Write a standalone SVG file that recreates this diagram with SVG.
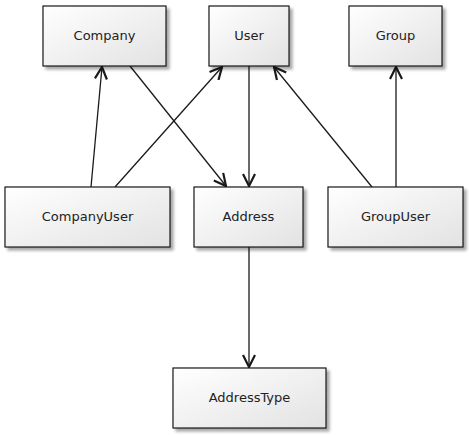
<svg xmlns="http://www.w3.org/2000/svg" width="469" height="435" viewBox="0 0 469 435">
<defs>
<linearGradient id="g" x1="0" y1="0" x2="1" y2="1">
<stop offset="0" stop-color="#ffffff"/>
<stop offset="1" stop-color="#e2e2e2"/>
</linearGradient>
<filter id="sh" x="-10%" y="-10%" width="130%" height="130%">
<feGaussianBlur in="SourceAlpha" stdDeviation="1.5"/>
<feOffset dx="3" dy="3" result="b"/>
<feComponentTransfer><feFuncA type="linear" slope="0.35"/></feComponentTransfer>
<feMerge><feMergeNode/><feMergeNode in="SourceGraphic"/></feMerge>
</filter>
<marker id="arr" viewBox="0 0 14 14" refX="13" refY="7" markerWidth="14" markerHeight="14" markerUnits="userSpaceOnUse" orient="auto">
<path d="M1,1 L13,7 L1,13" fill="none" stroke="#1a1a1a" stroke-width="2.2"/>
</marker>
</defs>
<style>
.n rect{fill:url(#g);stroke:#1a1a1a;stroke-width:1.2;filter:url(#sh)}
.n text{font-family:"DejaVu Sans",Verdana,sans-serif;font-size:13px;fill:#222;text-anchor:middle;dominant-baseline:central}
.c line{stroke:#1a1a1a;stroke-width:1.3;marker-end:url(#arr)}
</style>
<rect width="469" height="435" fill="#ffffff"/>
<g class="c" id="connectors">
<line x1="91" y1="187" x2="102" y2="67"/>
<line x1="115" y1="187" x2="222" y2="67"/>
<line x1="130" y1="66" x2="226" y2="186"/>
<line x1="249" y1="66" x2="249" y2="186"/>
<line x1="372" y1="187" x2="274" y2="67"/>
<line x1="396" y1="187" x2="396" y2="67"/>
<line x1="249" y1="247" x2="249" y2="367"/>
</g>
<g class="n" id="Company"><rect x="43" y="6" width="123" height="60"/><text x="104.5" y="35">Company</text></g>
<g class="n" id="User"><rect x="209" y="6" width="80" height="60"/><text x="249" y="35">User</text></g>
<g class="n" id="Group"><rect x="349" y="6" width="93" height="60"/><text x="395.5" y="35">Group</text></g>
<g class="n" id="CompanyUser"><rect x="5" y="187" width="165" height="60"/><text x="87.5" y="216">CompanyUser</text></g>
<g class="n" id="Address"><rect x="194" y="187" width="109" height="60"/><text x="248.5" y="216">Address</text></g>
<g class="n" id="GroupUser"><rect x="328" y="187" width="135" height="60"/><text x="395.5" y="216">GroupUser</text></g>
<g class="n" id="AddressType"><rect x="173" y="368" width="153" height="60"/><text x="249.5" y="397">AddressType</text></g>
</svg>
